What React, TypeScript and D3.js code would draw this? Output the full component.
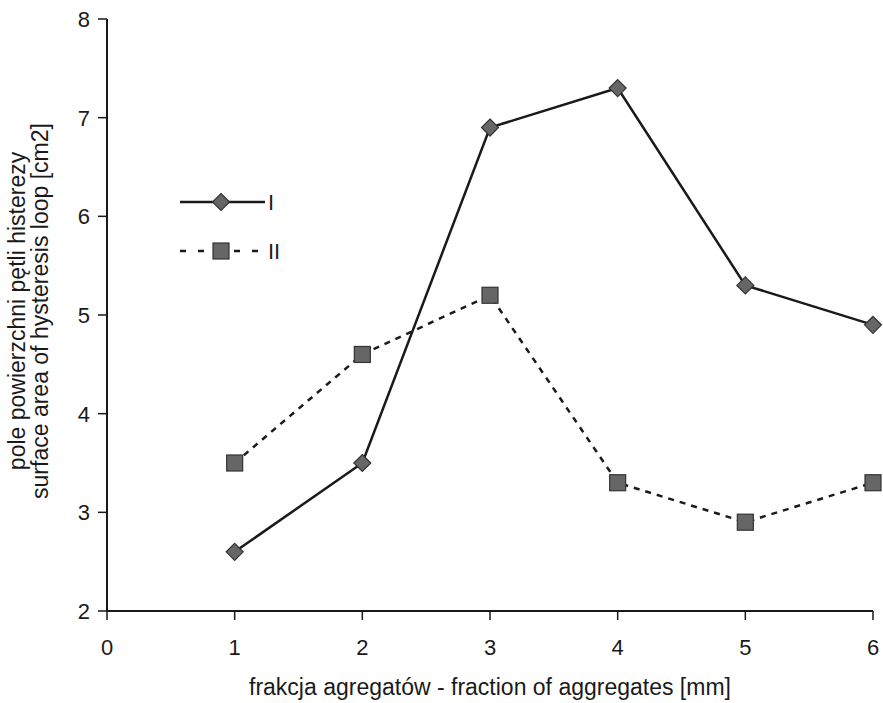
import React from 'react';
import * as d3 from 'd3';

// data
const fractions = [1, 2, 3, 4, 5, 6];
const seriesI = [2.6, 3.5, 6.9, 7.3, 5.3, 4.9];
const seriesII = [3.5, 4.6, 5.2, 3.3, 2.9, 3.3];
const xTicks = [0, 1, 2, 3, 4, 5, 6];
const yTicks = [2, 3, 4, 5, 6, 7, 8];
const legendLabels = ['I', 'II'];

const W = 883;
const H = 703;
const font = '"Liberation Sans", Arial, sans-serif';
const ink = '#1a1a1a';
const markerFill = '#666';

const App = () => {
  const x = d3.scaleLinear().domain([0, 6]).range([107, 873]);
  const y = d3.scaleLinear().domain([2, 8]).range([611, 19]);

  const line = d3
    .line<number>()
    .x((_, i) => x(fractions[i]))
    .y((d) => y(d));

  const diamond = (cx: number, cy: number, r = 8.5) =>
    `M${cx},${cy - r}L${cx + r},${cy}L${cx},${cy + r}L${cx - r},${cy}Z`;

  return (
    <svg width={W} height={H} style={{ position: 'absolute', left: 0, top: 0, background: '#fff' }} fontFamily={font}>
      {/* axes */}
      <line x1={x(0)} x2={x(6)} y1={y(2)} y2={y(2)} stroke={ink} strokeWidth={2} />
      <line x1={x(0)} x2={x(0)} y1={y(2)} y2={y(8)} stroke={ink} strokeWidth={2} />
      {yTicks.map((t) => (
        <g key={'y' + t}>
          <line x1={x(0) - 9} x2={x(0)} y1={y(t)} y2={y(t)} stroke={ink} strokeWidth={1.5} />
          <text x={x(0) - 17} y={y(t)} dy="0.36em" textAnchor="end" fontSize={22} fill={ink}>
            {t}
          </text>
        </g>
      ))}
      {xTicks.map((t) => (
        <g key={'x' + t}>
          <line x1={x(t)} x2={x(t)} y1={y(2)} y2={y(2) + 9} stroke={ink} strokeWidth={1.5} />
          <text x={x(t)} y={y(2) + 44} textAnchor="middle" fontSize={22} fill={ink}>
            {t}
          </text>
        </g>
      ))}

      {/* axis titles */}
      <text x={490} y={695} textAnchor="middle" fontSize={23} fill={ink}>
        frakcja agregatów - fraction of aggregates [mm]
      </text>
      <g transform={`translate(25, 311) rotate(-90)`}>
        <text x={0} y={0} textAnchor="middle" fontSize={23} fill={ink}>
          pole powierzchni pętli histerezy
        </text>
        <text x={0} y={23} textAnchor="middle" fontSize={23} fill={ink}>
          surface area of hysteresis loop [cm2]
        </text>
      </g>

      {/* series II, dashed with squares */}
      <path d={line(seriesII) || ''} fill="none" stroke={ink} strokeWidth={2.5} strokeDasharray="6,6" />
      {seriesII.map((v, i) => (
        <rect key={'s2' + i} x={x(fractions[i]) - 8} y={y(v) - 8} width={16} height={16} fill={markerFill} stroke="#333" strokeWidth={1.2} />
      ))}

      {/* series I, solid with diamonds */}
      <path d={line(seriesI) || ''} fill="none" stroke={ink} strokeWidth={2.5} />
      {seriesI.map((v, i) => (
        <path key={'s1' + i} d={diamond(x(fractions[i]), y(v))} fill={markerFill} stroke="#333" strokeWidth={1.2} />
      ))}

      {/* legend */}
      <line x1={180} x2={265} y1={202} y2={202} stroke={ink} strokeWidth={2.5} />
      <path d={diamond(221, 202)} fill={markerFill} stroke="#333" strokeWidth={1.2} />
      <text x={268} y={202} dy="0.36em" fontSize={22} fill={ink}>
        {legendLabels[0]}
      </text>
      <line x1={180} x2={265} y1={251} y2={251} stroke={ink} strokeWidth={2.5} strokeDasharray="6,12" />
      <rect x={213} y={243} width={16} height={16} fill={markerFill} stroke="#333" strokeWidth={1.2} />
      <text x={268} y={251} dy="0.36em" fontSize={22} fill={ink}>
        {legendLabels[1]}
      </text>
    </svg>
  );
};

export default App;
